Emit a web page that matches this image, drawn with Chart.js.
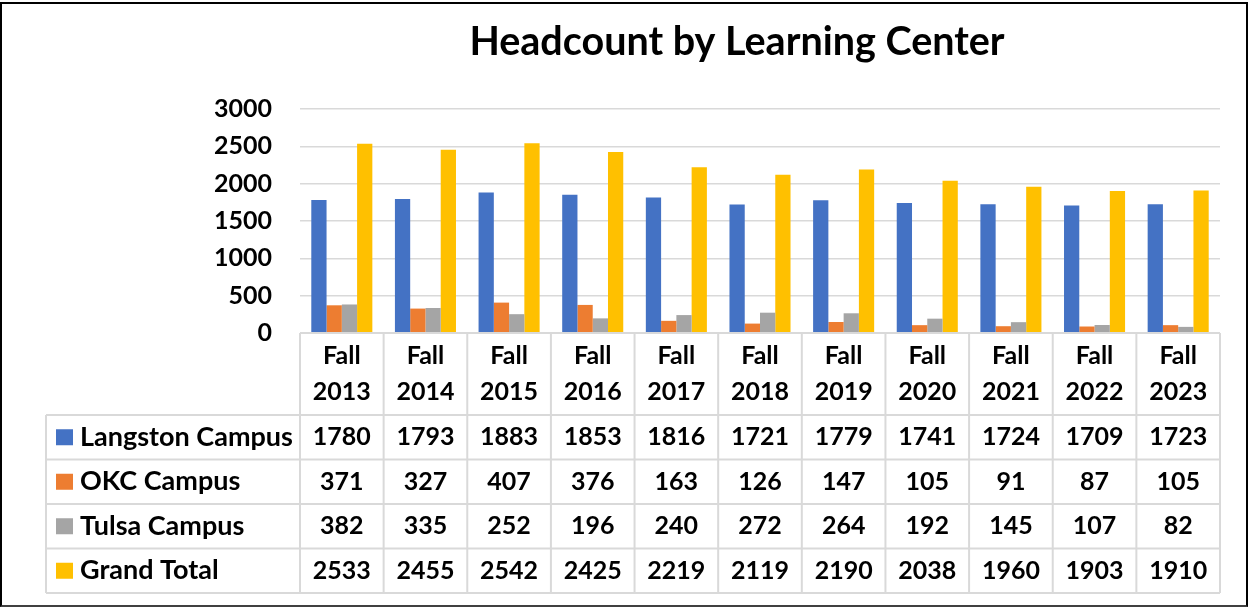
<!DOCTYPE html>
<html>
<head>
<meta charset="utf-8">
<script src="https://cdn.jsdelivr.net/npm/chart.js@4"></script>
<style>
  html, body { margin: 0; padding: 0; background: #fff; }
  #wrap { position: relative; width: 1249px; height: 607px; }
  #frame {
    position: absolute; left: 0; top: 2px; width: 1244px; height: 601px;
    border: 2px solid #000; border-bottom-color: #404040; pointer-events: none;
  }
  canvas { position: absolute; left: 0; top: 0; }
</style>
</head>
<body>
<div id="wrap">
  <canvas id="headcountChart" width="1249" height="607"></canvas>
  <div id="frame"></div>
</div>
<script>
const categories = ['Fall 2013', 'Fall 2014', 'Fall 2015', 'Fall 2016', 'Fall 2017', 'Fall 2018',
  'Fall 2019', 'Fall 2020', 'Fall 2021', 'Fall 2022', 'Fall 2023'];
const seriesNames = ['Langston Campus', 'OKC Campus', 'Tulsa Campus', 'Grand Total'];
const langston = [1780, 1793, 1883, 1853, 1816, 1721, 1779, 1741, 1724, 1709, 1723];
const okc = [371, 327, 407, 376, 163, 126, 147, 105, 91, 87, 105];
const tulsa = [382, 335, 252, 196, 240, 272, 264, 192, 145, 107, 82];
const grandTotal = [2533, 2455, 2542, 2425, 2219, 2119, 2190, 2038, 1960, 1903, 1910];
const yTicks = [0, 500, 1000, 1500, 2000, 2500, 3000];

const colors = ['#4472C4', '#ED7D31', '#A5A5A5', '#FFC000'];
const FONT = 'Lato, Carlito, sans-serif';

// title + data table under the plot, drawn off the x scale
const tablePlugin = {
  id: 'dataTable',
  afterDraw(chart) {
    const { ctx, chartArea, scales: { x } } = chart;
    const allSeries = chart.data.datasets;
    const step = x.getPixelForValue(1) - x.getPixelForValue(0);
    const tableLeft = 46;
    const top = chartArea.bottom;
    const headerH = 82;
    const rowH = 44.5;
    const bottom = top + headerH + rowH * allSeries.length;

    ctx.save();
    ctx.fillStyle = '#000';
    ctx.font = `bold 39.5px ${FONT}`;
    ctx.textAlign = 'center';
    ctx.textBaseline = 'alphabetic';
    ctx.fillText('Headcount by Learning Center', 737, 55);

    // grid lines
    ctx.strokeStyle = '#d9d9d9';
    ctx.lineWidth = 2;
    ctx.beginPath();
    ctx.moveTo(chartArea.left, top);
    ctx.lineTo(chartArea.right, top);
    for (let r = 0; r <= allSeries.length; r++) {
      const y = top + headerH + rowH * r;
      ctx.moveTo(tableLeft, y);
      ctx.lineTo(chartArea.right, y);
    }
    ctx.moveTo(tableLeft, top + headerH);
    ctx.lineTo(tableLeft, bottom);
    for (let i = 0; i <= categories.length; i++) {
      const cx = chartArea.left + step * i;
      ctx.moveTo(cx, top);
      ctx.lineTo(cx, bottom);
    }
    ctx.stroke();

    // header
    ctx.fillStyle = '#000';
    ctx.font = `bold 25px ${FONT}`;
    ctx.textBaseline = 'middle';
    ctx.textAlign = 'center';
    categories.forEach((cat, i) => {
      const cx = x.getPixelForValue(i);
      const [a, b] = cat.split(' ');
      ctx.fillText(a, cx, top + 23);
      ctx.fillText(b, cx, top + 59);
    });

    // rows
    allSeries.forEach((ds, r) => {
      const cy = top + headerH + rowH * r + rowH / 2;
      ctx.fillStyle = ds.backgroundColor;
      ctx.fillRect(56, cy - 8, 17, 16);
      ctx.fillStyle = '#000';
      ctx.textAlign = 'left';
      ctx.font = `bold 27px ${FONT}`;
      ctx.fillText(ds.label, 80, cy);
      ctx.textAlign = 'center';
      ctx.font = `bold 25px ${FONT}`;
      ds.data.forEach((v, i) => {
        ctx.fillText(String(v), x.getPixelForValue(i), cy);
      });
    });
    ctx.restore();
  }
};

function drawChart() {
  const ctx = document.getElementById('headcountChart').getContext('2d');
  new Chart(ctx, {
    type: 'bar',
    data: {
      labels: categories,
      datasets: [langston, okc, tulsa, grandTotal].map((data, i) => ({
        label: seriesNames[i],
        data: data,
        backgroundColor: colors[i],
        borderWidth: 0,
        barPercentage: 1,
        categoryPercentage: 0.73
      }))
    },
    options: {
      responsive: false,
      animation: false,
      layout: { padding: { left: 0, right: 29, top: 109, bottom: 274 } },
      plugins: {
        legend: { display: false },
        title: { display: false },
        tooltip: { enabled: false }
      },
      scales: {
        x: { display: false },
        y: {
          min: yTicks[0],
          max: yTicks[yTicks.length - 1],
          afterFit: scale => { scale.width = 300; },
          afterBuildTicks: scale => { scale.ticks = yTicks.map(v => ({ value: v })); },
          border: { display: false },
          grid: { color: '#d9d9d9', lineWidth: 1.5, drawTicks: false },
          ticks: {
            padding: 28,
            color: '#000',
            font: { family: FONT, size: 25, weight: 'bold' },
            callback: value => String(value)
          }
        }
      }
    },
    plugins: [tablePlugin]
  });
}

document.fonts.load(`bold 25px Lato`).then(drawChart, drawChart);
</script>
</body>
</html>
